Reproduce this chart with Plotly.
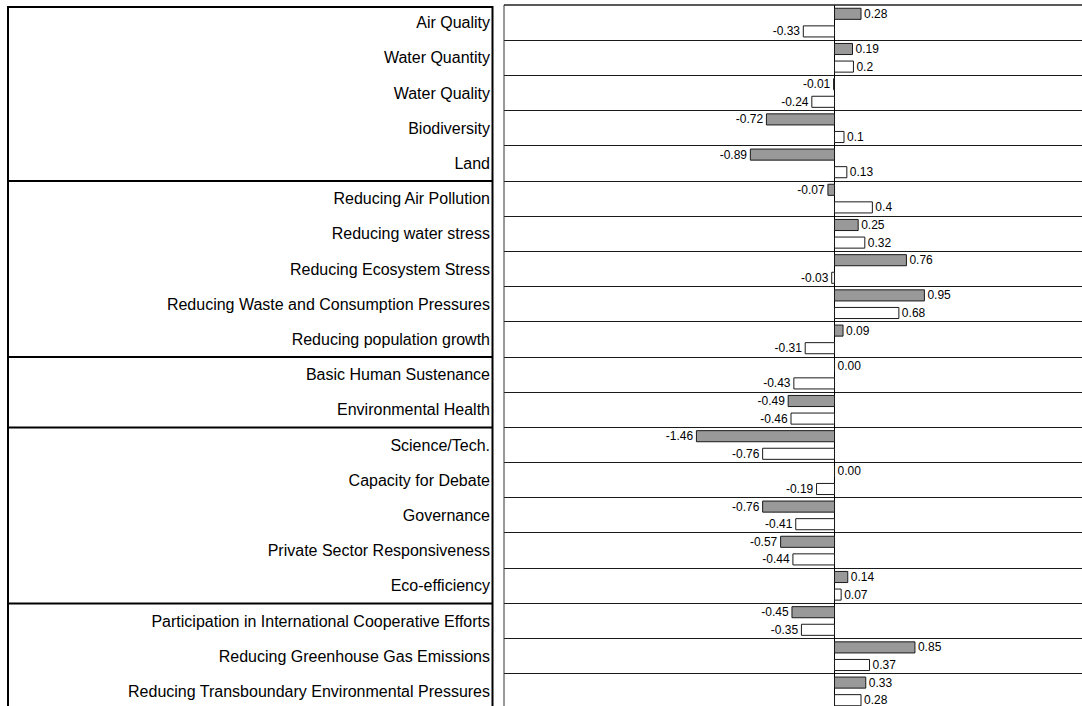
import plotly.graph_objects as go

categories = [
    "Air Quality", "Water Quantity", "Water Quality", "Biodiversity", "Land",
    "Reducing Air Pollution", "Reducing water stress", "Reducing Ecosystem Stress",
    "Reducing Waste and Consumption Pressures", "Reducing population growth",
    "Basic Human Sustenance", "Environmental Health",
    "Science/Tech.", "Capacity for Debate", "Governance",
    "Private Sector Responsiveness", "Eco-efficiency",
    "Participation in International Cooperative Efforts",
    "Reducing Greenhouse Gas Emissions",
    "Reducing Transboundary Environmental Pressures",
]
series_gray = [0.28, 0.19, -0.01, -0.72, -0.89, -0.07, 0.25, 0.76, 0.95, 0.09,
               0.00, -0.49, -1.46, 0.00, -0.76, -0.57, 0.14, -0.45, 0.85, 0.33]
series_white = [-0.33, 0.2, -0.24, 0.1, 0.13, 0.4, 0.32, -0.03, 0.68, -0.31,
                -0.43, -0.46, -0.76, -0.19, -0.41, -0.44, 0.07, -0.35, 0.37, 0.28]
group_sizes = [5, 5, 2, 5, 3]

text_gray = [f"{v:.2f}" for v in series_gray]
text_white = [f"{v:g}" for v in series_white]

W, H = 1082, 706
ML, MT, MB, MR = 504, 5, 0, 0
x_range = [-3.494, 2.616]
y_lo, y_hi = -0.5, 19.415   # top, bottom (reversed)

FONT = "Liberation Sans, Arial, sans-serif"

fig = go.Figure()
fig.add_trace(go.Bar(
    y=categories, x=series_gray, orientation="h",
    marker=dict(color="#999999", line=dict(color="#1a1a1a", width=1)),
    text=text_gray, textposition="outside", cliponaxis=False,
    constraintext="none",
    textfont=dict(family=FONT, size=12, color="#000000"),
    name="gray", hoverinfo="skip",
))
fig.add_trace(go.Bar(
    y=categories, x=series_white, orientation="h",
    marker=dict(color="#ffffff", line=dict(color="#1a1a1a", width=1)),
    text=text_white, textposition="outside", cliponaxis=False,
    constraintext="none",
    textfont=dict(family=FONT, size=12, color="#000000"),
    name="white", hoverinfo="skip",
))

def ypaper(v):
    return (y_hi - v) / (y_hi - y_lo)

def xpaper(px):
    return (px - ML) / (W - ML - MR)

shapes = []
# left panel frame
shapes.append(dict(type="rect", xref="paper", yref="paper",
                   x0=xpaper(8), x1=xpaper(492.5), y0=-0.05, y1=ypaper(-0.44),
                   line=dict(color="#000000", width=2), fillcolor="rgba(0,0,0,0)",
                   layer="above"))
# group separators
b = -0.5
for g in group_sizes[:-1]:
    b += g
    shapes.append(dict(type="line", xref="paper", yref="paper",
                       x0=xpaper(8), x1=xpaper(492.5), y0=ypaper(b), y1=ypaper(b),
                       line=dict(color="#000000", width=2)))
# right panel left and top border
shapes.append(dict(type="line", xref="paper", yref="paper", x0=0, x1=0, y0=0, y1=1,
                   line=dict(color="#333333", width=1)))
shapes.append(dict(type="line", xref="paper", yref="paper", x0=0, x1=1, y0=1, y1=1,
                   line=dict(color="#222222", width=1.5)))

fig.update_layout(
    width=W, height=H,
    margin=dict(l=ML, r=MR, t=MT, b=MB, pad=0),
    paper_bgcolor="white", plot_bgcolor="white",
    barmode="group", bargap=0.0, bargroupgap=0.37,
    showlegend=False,
    shapes=shapes,
    font=dict(family=FONT, color="#000000"),
)
fig.update_xaxes(range=x_range, showticklabels=False, showgrid=False,
                 zeroline=True, zerolinecolor="#000000", zerolinewidth=1)
fig.update_yaxes(type="category", range=[y_hi, y_lo], tickson="boundaries",
                 showgrid=True, gridcolor="#1a1a1a", gridwidth=1,
                 ticks="", ticklabelstandoff=13,
                 tickfont=dict(family=FONT, size=16, color="#000000"))

fig.write_html("out.html", config={"displayModeBar": False},
               post_script="document.body.style.margin='0';document.body.style.overflow='hidden';")
